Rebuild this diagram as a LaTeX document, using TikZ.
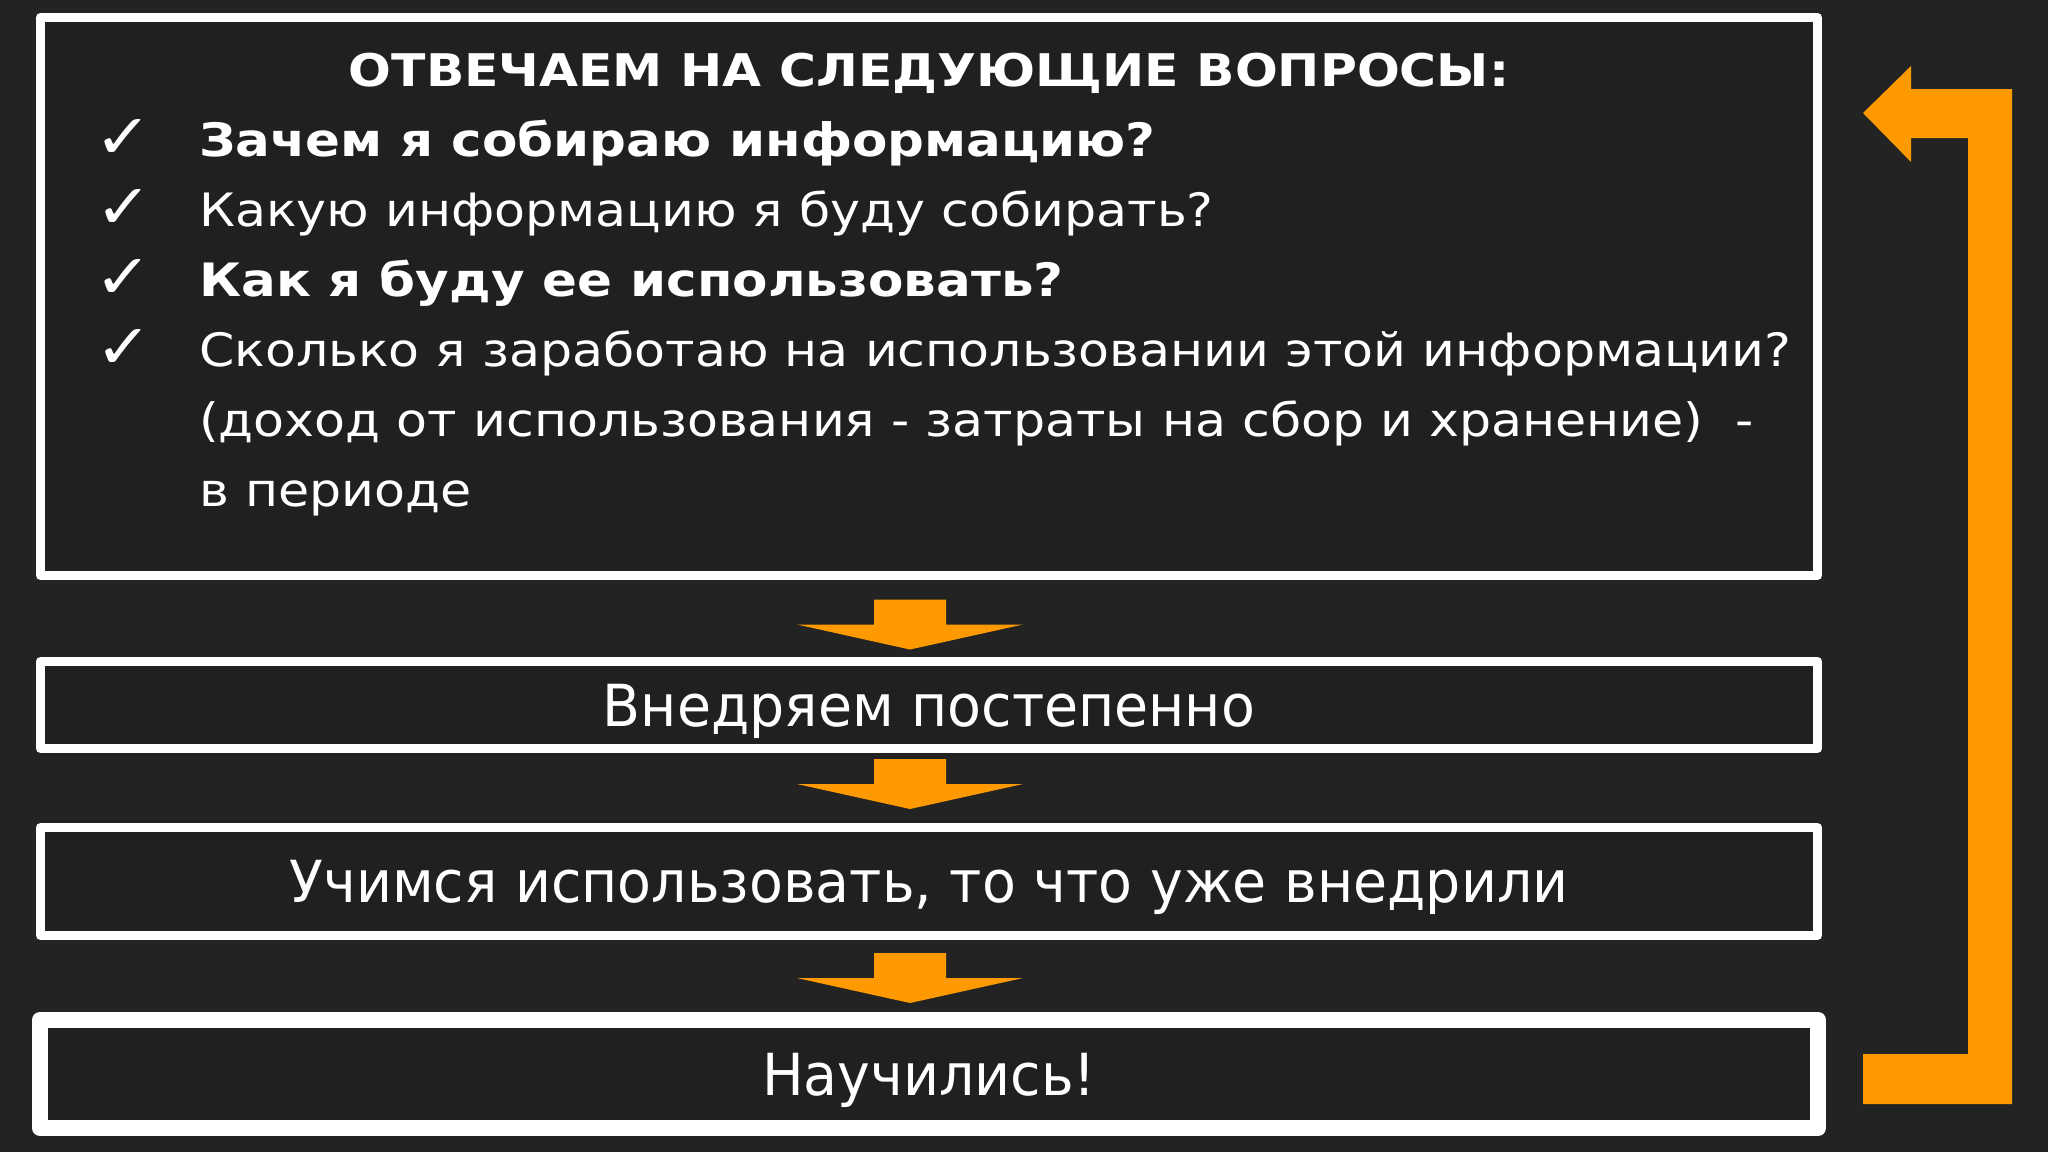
\documentclass[tikz,border=0pt]{standalone}
\usepackage{fontspec}
\setmainfont{DejaVu Sans}
\newfontfamily\listFont[FakeStretch=1.1, BoldFeatures={FakeStretch=1.12}]{DejaVu Sans}
\newfontfamily\boxFont[FakeStretch=0.955]{DejaVu Sans}
\usetikzlibrary{positioning}
\usetikzlibrary{calc}
\definecolor{bgGray}{RGB}{35,35,35}
\definecolor{boxGray}{RGB}{32,32,33}
\definecolor{arrowOrange}{RGB}{255,153,0}
\newcommand{\tick}{\llap{\raisebox{-2pt}{\fontsize{62pt}{70pt}\selectfont ✓}\hspace{47pt}}}
% block arrow between two boxes, optional shift of its middle
\newcommand{\downBlock}[3][0]{%
	\coordinate (mid) at ($(#2.south)!0.5!(#3.north)+(-19,#1)$);
	\fill[arrowOrange] ([shift={(-36,25)}]mid) -- ++(72,0) -- ++(0,-25) -- ++(77,0)
	-- ++(-113,-25) -- ++(-113,25) -- ++(77,0) -- cycle;}
\tikzset{%
	% Specifications for style of nodes:
	frame/.style = {rectangle, draw=white, fill=boxGray, line width=9pt,
		line join=round, minimum width=1777pt, inner sep=0pt},
	stepBox/.style = {frame, minimum height=87pt, text height=42pt, text depth=0pt,
		font=\boxFont\fontsize{58pt}{70pt}\selectfont},
	listLine/.style = {anchor=base west, inner sep=0pt,
		font=\listFont\fontsize{46pt}{70pt}\selectfont}
}

\begin{document}
\begin{tikzpicture}[x=1pt, y=1pt, every node/.style={text=white}]
	\fill[bgGray] (0,0) rectangle (2048,-1152);
	\node (qBox) [frame, minimum height=558pt] at (929,-296.5) {};
	\node (qTitle) [anchor=base, inner sep=0pt, shift={(0,-73)}, font=\listFont\fontsize{45pt}{70pt}\selectfont\bfseries] at (qBox.north) {ОТВЕЧАЕМ НА СЛЕДУЮЩИЕ ВОПРОСЫ:};
	\foreach \txt [count=\i from 0] in {%
		{\bfseries\tick Зачем я собираю информацию?},
		{\tick Какую информацию я буду собирать?},
		{\bfseries\tick Как я буду ее использовать?},
		{\tick Сколько я заработаю на использовании этой информации?},
		{(доход от использования - затраты на сбор и хранение)~~-},
		{в периоде}}
	\node (qLine\i) [listLine, shift={(163,{-143-70*\i})}] at (qBox.north west) {\txt};
	\node (implBox) [stepBox, below=77pt of qBox] {Внедряем постепенно};
	\node (learnBox) [stepBox, minimum height=108pt, below=70pt of implBox] {Учимся использовать, то что уже внедрили};
	\node (doneBox) [stepBox, line width=16pt, minimum width=1778pt, minimum height=108pt, below=72pt of learnBox] {Научились!};
	\downBlock[-6]{qBox}{implBox}
	\downBlock[4]{implBox}{learnBox}
	\downBlock[-2]{learnBox}{doneBox}
	% loop back from the result to the questions
	\coordinate (loopIn) at ([xshift=37pt, yshift=-5pt]doneBox.east);
	\coordinate (loopOut) at ([xshift=41pt, yshift=-100pt]qBox.north east);
	\fill[arrowOrange] ($(loopIn)+(0,-25)$) -| ($(loopOut)+(149,24)$) -- ++(-101,0) -- ++(0,23)
	-- (loopOut) -- ++(48,-49) -- ++(0,24) -- ++(57,0) |- ($(loopIn)+(0,25)$) -- cycle;
\end{tikzpicture}
\end{document}
